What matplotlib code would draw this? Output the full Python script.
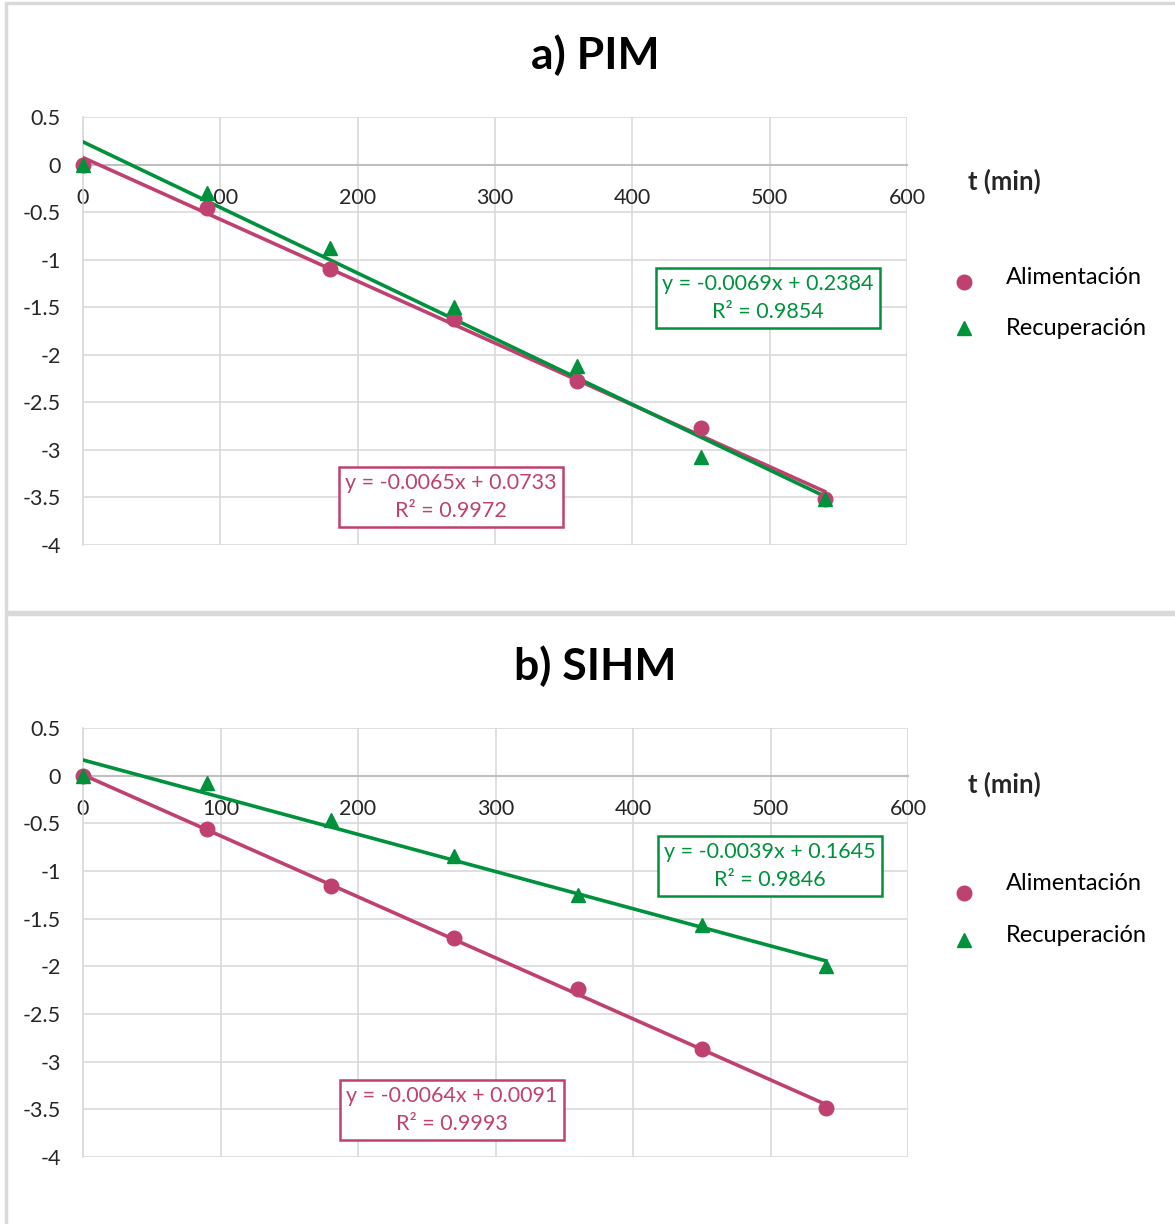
import matplotlib
matplotlib.use("Agg")
import matplotlib.pyplot as plt
from matplotlib.patches import Rectangle
from matplotlib.lines import Line2D

plt.rcParams["font.family"] = ["Lato", "DejaVu Sans"]

########## Data
t_min = [0, 90, 180, 270, 360, 450, 540]

pim_alim = [0.0, -0.46, -1.10, -1.62, -2.28, -2.77, -3.52]
pim_recu = [0.0, -0.30, -0.88, -1.50, -2.12, -3.07, -3.52]

sihm_alim = [0.0, -0.56, -1.16, -1.70, -2.24, -2.87, -3.49]
sihm_recu = [0.0, -0.08, -0.47, -0.84, -1.25, -1.57, -2.00]

# trendline coefficients (slope, intercept, R2) as printed on the chart
pim_fit_alim = (-0.0065, 0.0733, 0.9972)
pim_fit_recu = (-0.0069, 0.2384, 0.9854)
sihm_fit_alim = (-0.0064, 0.0091, 0.9993)
sihm_fit_recu = (-0.0039, 0.1645, 0.9846)

titles = ["a) PIM", "b) SIHM"]
x_ticks = [0, 100, 200, 300, 400, 500, 600]
y_ticks = [0.5, 0, -0.5, -1, -1.5, -2, -2.5, -3, -3.5, -4]

MAGENTA = "#BF4170"
GREEN = "#00913C"
GRID = "#D9D9D9"
TEXT = "#262626"

W, H = 1175, 1224
fig = plt.figure(figsize=(W / 100, H / 100), dpi=100)


def fx(px):
    return px / W


def fy(py):
    return 1 - py / H


########## Chart area borders
fig.add_artist(Rectangle((fx(6), fy(612)), 1.2, fy(3) - fy(612), transform=fig.transFigure,
                         fill=False, edgecolor=GRID, linewidth=2.5))
fig.add_artist(Rectangle((fx(6), fy(1240)), 1.2, fy(614) - fy(1240), transform=fig.transFigure,
                         fill=False, edgecolor=GRID, linewidth=2.5))

panels = [
    dict(top=117, bottom=545, right=907, title_y=55, tlabel_y=181,
         leg_marker_y=(282, 328), leg_text_y=(278, 329),
         alim=pim_alim, recu=pim_recu, fa=pim_fit_alim, fr=pim_fit_recu,
         box_a=(451, 497), box_r=(768, 298)),
    dict(top=728, bottom=1157, right=908, title_y=666, tlabel_y=784,
         leg_marker_y=(893, 940), leg_text_y=(884, 935),
         alim=sihm_alim, recu=sihm_recu, fa=sihm_fit_alim, fr=sihm_fit_recu,
         box_a=(452, 1110), box_r=(770, 866)),
]

for title, p in zip(titles, panels):
    ax = fig.add_axes([fx(83), fy(p["bottom"]), fx(p["right"]) - fx(83), fy(p["top"]) - fy(p["bottom"])])
    ax.set_xlim(0, 600)
    ax.set_ylim(-4, 0.5)
    ax.set_xticks(x_ticks)
    ax.set_yticks(y_ticks)
    ax.set_yticklabels([f"{v:g}" for v in y_ticks])
    ax.grid(True, color=GRID, linewidth=1.2)
    ax.set_axisbelow(True)
    for s in ["top", "right"]:
        ax.spines[s].set_visible(False)
    ax.spines["left"].set_color(GRID)
    ax.spines["left"].set_linewidth(1.2)
    ax.spines["bottom"].set_position(("data", 0))
    ax.spines["bottom"].set_color("#BFBFBF")
    ax.spines["bottom"].set_linewidth(1.5)
    ax.tick_params(axis="both", length=0, labelsize=15.5, labelcolor=TEXT)
    ax.tick_params(axis="x", pad=17)
    ax.tick_params(axis="y", pad=16)

    # trendlines over the data range
    xa = [t_min[0], t_min[-1]]
    ax.plot(xa, [p["fa"][0] * x + p["fa"][1] for x in xa], color=MAGENTA, linewidth=2.6, zorder=3)
    ax.plot(xa, [p["fr"][0] * x + p["fr"][1] for x in xa], color=GREEN, linewidth=2.6, zorder=3)

    ax.plot(t_min, p["alim"], "o", color=MAGENTA, markersize=10.5, zorder=4, clip_on=False)
    ax.plot(t_min, p["recu"], "^", color=GREEN, markersize=10.5, zorder=5, clip_on=False)

    # equation boxes
    for (bx, by), fit, col in [(p["box_a"], p["fa"], MAGENTA), (p["box_r"], p["fr"], GREEN)]:
        s = f"y = {fit[0]:.4f}x + {fit[1]:.4f}\nR² = {fit[2]:.4f}"
        fig.text(fx(bx), fy(by), s, ha="center", va="center", color=col, fontsize=15.5,
                 linespacing=1.5,
                 bbox=dict(boxstyle="square,pad=0.3", facecolor="white", edgecolor=col, linewidth=1.8))

    fig.text(fx(595), fy(p["title_y"]), title, ha="center", va="center",
             fontsize=32, fontweight="bold", color="black")
    fig.text(fx(968), fy(p["tlabel_y"]), "t (min)", ha="left", va="center",
             fontsize=18.5, fontweight="bold", color=TEXT)

    # legend
    for my, ty, mk, col, lab in [(p["leg_marker_y"][0], p["leg_text_y"][0], "o", MAGENTA, "Alimentación"),
                                 (p["leg_marker_y"][1], p["leg_text_y"][1], "^", GREEN, "Recuperación")]:
        fig.add_artist(Line2D([fx(964)], [fy(my)], marker=mk, color=col, markersize=10.5,
                              linestyle="none", transform=fig.transFigure))
        fig.text(fx(1006), fy(ty), lab, ha="left", va="center", fontsize=17, color="black")

fig.savefig("out.png", dpi=100, facecolor="white")
